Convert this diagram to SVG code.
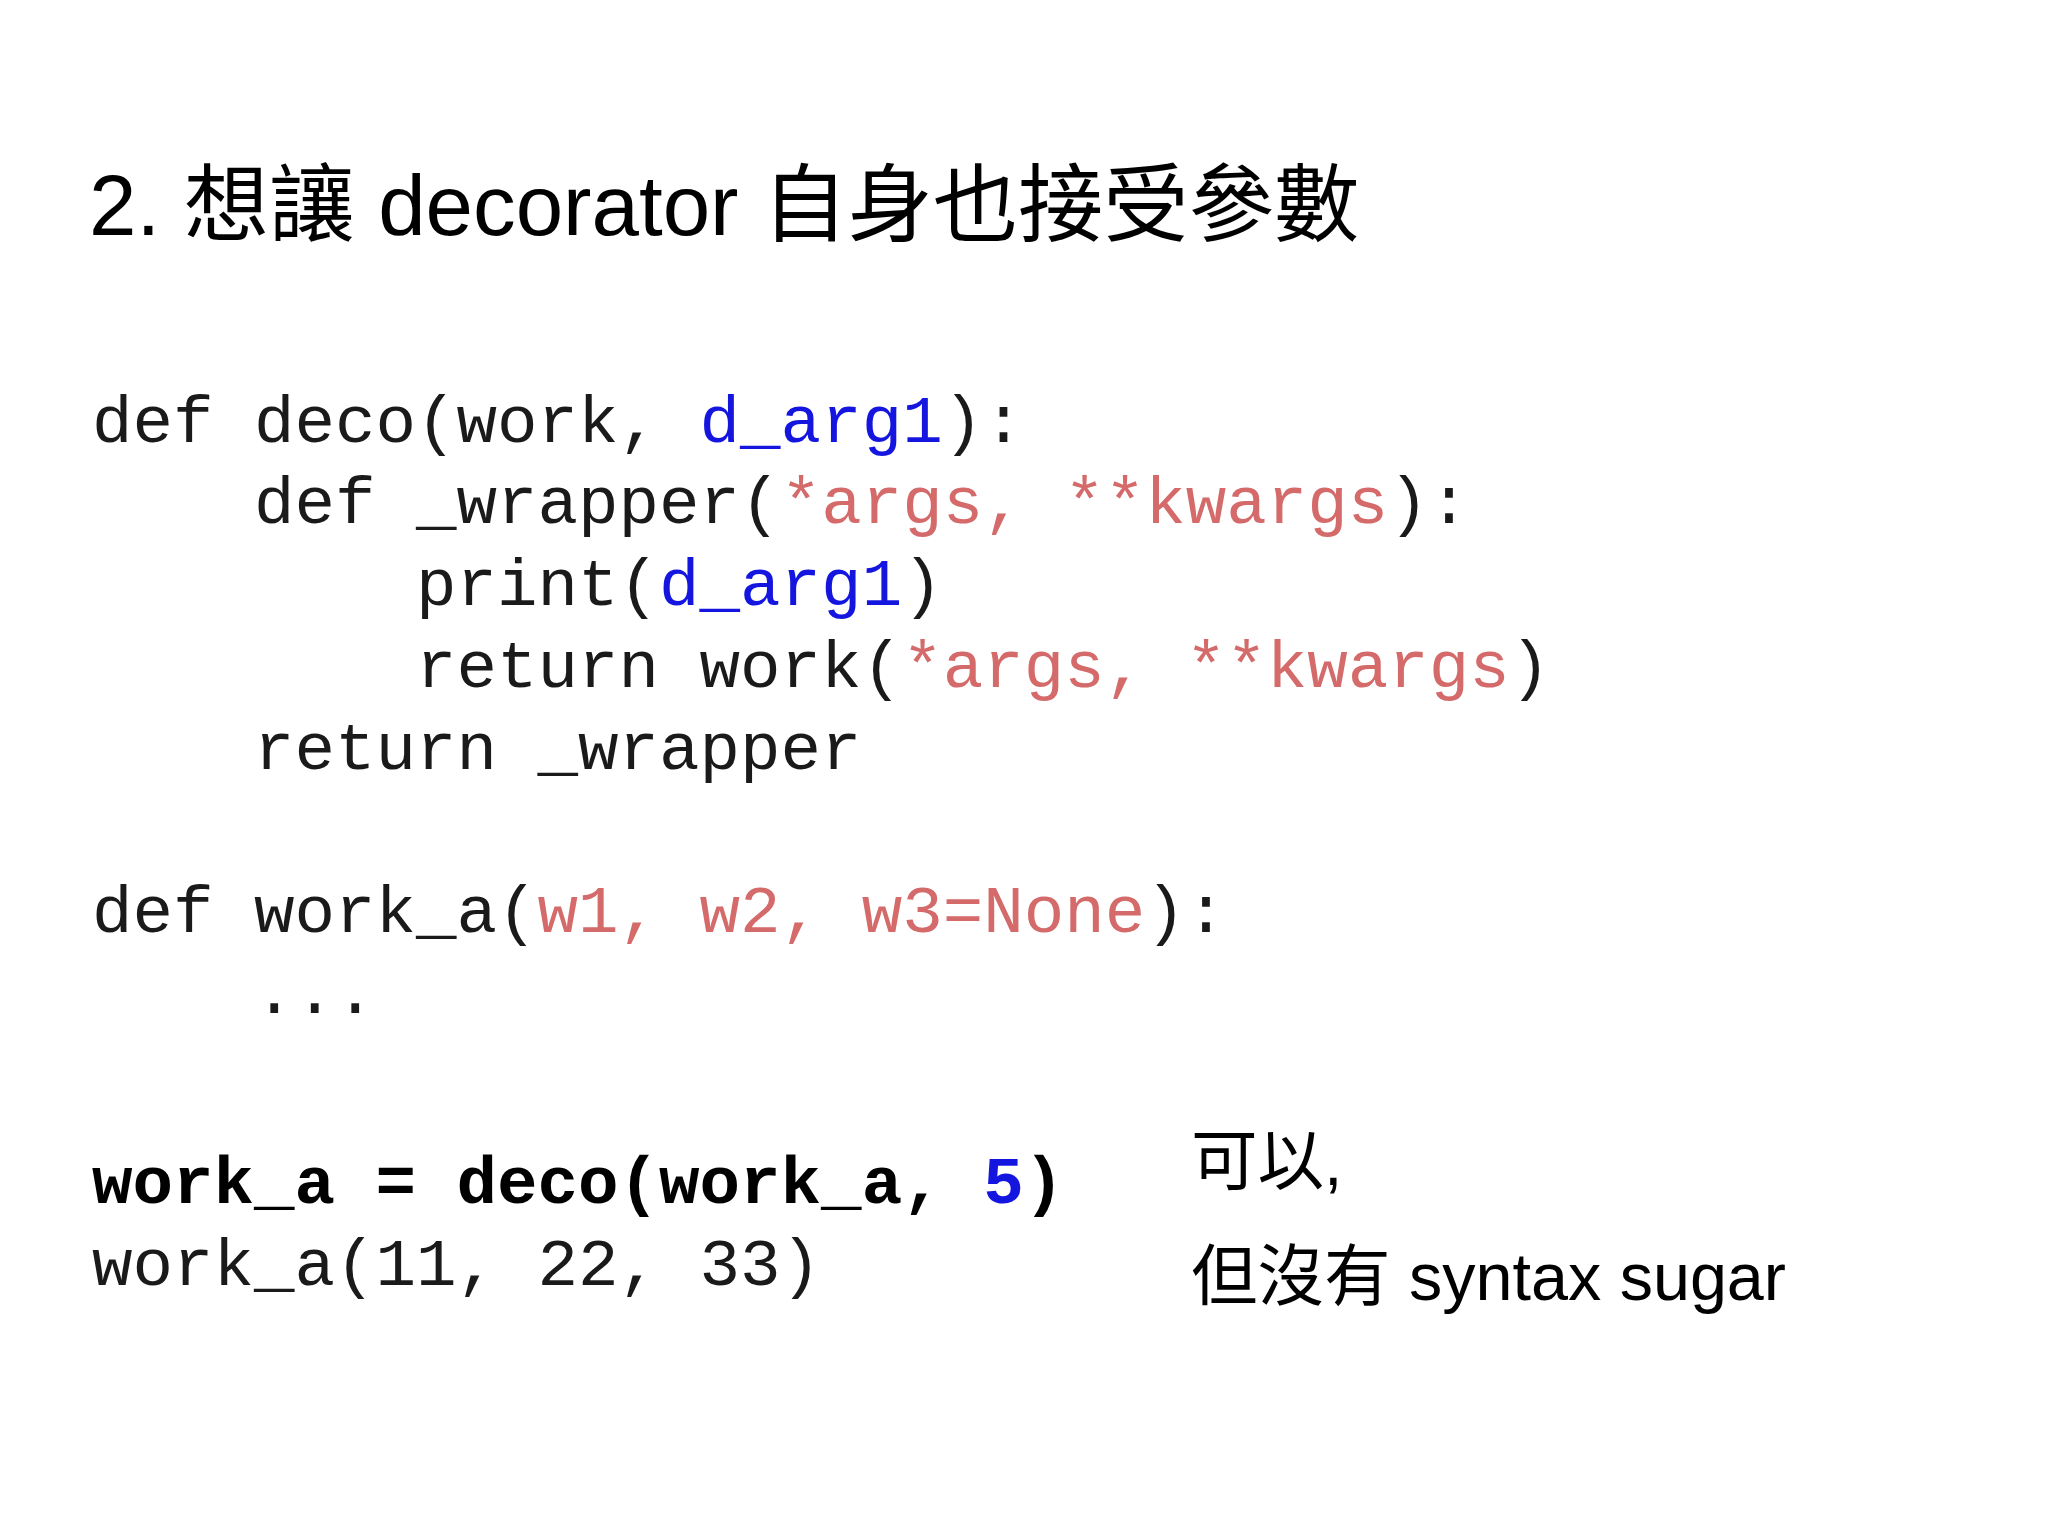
<svg xmlns="http://www.w3.org/2000/svg" width="2048" height="1536" viewBox="0 0 2048 1536">
<style>
.t{font-family:"Liberation Sans","Noto Sans CJK TC",sans-serif;fill:#000}
.c{font-family:"Liberation Mono",monospace;font-size:67.5px;fill:#1a1a1a;white-space:pre}
.b{fill:#1515e0}.r{fill:#d46a6a}
.k{font-weight:bold;fill:#000}
</style>
<rect width="2048" height="1536" fill="#fff"/>
<g id="title"><text class="t" x="89" y="235" font-size="85.3">2. 想讓 decorator 自身也接受參數</text></g>
<g id="code" xml:space="preserve">
<text class="c" x="92" y="442">def deco(work, <tspan class="b">d_arg1</tspan>):</text>
<text class="c" x="92" y="523">    def _wrapper(<tspan class="r">*args, **kwargs</tspan>):</text>
<text class="c" x="92" y="605">        print(<tspan class="b">d_arg1</tspan>)</text>
<text class="c" x="92" y="687">        return work(<tspan class="r">*args, **kwargs</tspan>)</text>
<text class="c" x="92" y="769">    return _wrapper</text>
<text class="c" x="92" y="932">def work_a(<tspan class="r">w1, w2, w3=None</tspan>):</text>
<text class="c" x="92" y="1013">    ...</text>
<text class="c k" x="92" y="1203">work_a = deco(work_a, <tspan class="b">5</tspan>)</text>
<text class="c" x="92" y="1285">work_a(11, 22, 33)</text>
</g>
<g id="note">
<text class="t" x="1191" y="1185" font-size="66.5">可以,</text>
<text class="t" x="1191" y="1300" font-size="66.5">但沒有 syntax sugar</text>
</g>
</svg>
